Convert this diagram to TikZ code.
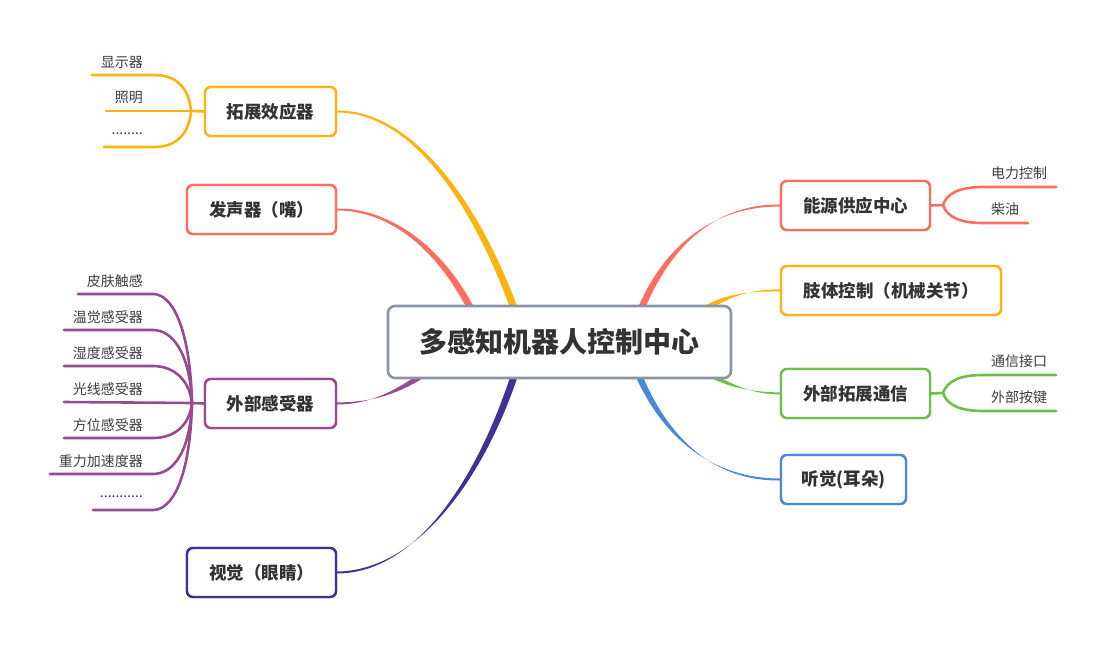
\documentclass[tikz,border=0pt]{standalone}
\usepackage{fontspec}
\setmainfont{Noto Sans CJK SC}
\usetikzlibrary{calc}
\definecolor{cy}{RGB}{253,180,18}
\definecolor{cs}{RGB}{255,110,94}
\definecolor{cp}{RGB}{151,74,140}
\definecolor{ci}{RGB}{64,50,148}
\definecolor{cg}{RGB}{108,192,74}
\definecolor{cb}{RGB}{74,137,218}
\definecolor{cc}{RGB}{138,148,166}
\definecolor{txt}{RGB}{51,51,51}
\definecolor{ltxt}{RGB}{60,60,60}
% tapered main branch: colour, start, c1, c2, end, half-width offset at end
\newcommand{\tbranch}[6]{%
  \fill[#1] ($(#2)+(0,-1.0)$) .. controls ($(#3)+(0,-1.3)$) and ($(#4)+#6$) .. ($(#5)+#6$)
     -- ($(#5)-#6$) .. controls ($(#4)-#6$) and ($(#3)+(0,1.3)$) .. ($(#2)+(0,1.0)$) -- cycle;}
\begin{document}
\begin{tikzpicture}[x=1pt,y=-1pt,
  box/.style={draw, line width=2.4pt, rounded corners=6pt, fill=white, minimum height=49pt,
    inner sep=0pt, font=\fontsize{17.5}{20}\selectfont\bfseries, text=txt},
  leafl/.style={anchor=east, inner sep=0pt, font=\fontsize{14}{16}\selectfont, text=ltxt},
  leafr/.style={anchor=west, inner sep=0pt, font=\fontsize{14}{16}\selectfont, text=ltxt},
  sub/.style={line width=2.6pt, line cap=round}]
\useasboundingbox (0,0) rectangle (1106,647);

% branch boxes (placed first for anchors; redrawn on top later)
\node[box, draw=cy, minimum width=131pt] (ext) at (270.5,111.5) {拓展效应器};
\node[box, draw=cs, minimum width=149pt] (voice) at (261.5,209.5) {发声器（嘴）};
\node[box, draw=cp, minimum width=131pt] (sens) at (270.5,403.5) {外部感受器};
\node[box, draw=ci, minimum width=149pt] (eye) at (261.5,572.5) {视觉（眼睛）};
\node[box, draw=cs, minimum width=149pt] (power) at (855.5,205.5) {能源供应中心};
\node[box, draw=cy, minimum width=220pt] (limb) at (891,290.5) {肢体控制（机械关节）};
\node[box, draw=cg, minimum width=149pt] (comm) at (855.5,393.5) {外部拓展通信};
\node[box, draw=cb, minimum width=125pt] (ear) at (843.5,479.5) {听觉(耳朵)};

% hidden ends of main branches (under the centre box)
\coordinate (e1) at (525,340);
\coordinate (e2) at (485,340);
\coordinate (e3) at (450,355);
\coordinate (e4) at (525,340);
\coordinate (e5) at (630,340);
\coordinate (e6) at (690,320);
\coordinate (e7) at (690,360);
\coordinate (e8) at (628,345);

\tbranch{cy}{ext.east}{410,111}{480,200}{e1}{(3.5,-1.1)}
\tbranch{cs}{voice.east}{390,209}{450,250}{e2}{(3.4,-1.3)}
\tbranch{cp}{sens.east}{370,403}{400,395}{e3}{(2.1,2.6)}
\tbranch{ci}{eye.east}{420,572}{490,470}{e4}{(3.5,1.0)}
\tbranch{cs}{power.west}{720,205}{660,240}{e5}{(3.4,1.1)}
\tbranch{cy}{limb.west}{750,290}{720,295}{e6}{(1.7,2.8)}
\tbranch{cg}{comm.west}{750,393}{720,385}{e7}{(-1.9,2.7)}
\tbranch{cb}{ear.west}{700,480}{650,420}{e8}{(-3.4,1.0)}

% centre
\node[draw=cc, line width=2.6pt, rounded corners=7pt, fill=white, minimum width=343pt,
  minimum height=72pt, inner sep=0pt, font=\fontsize{28}{32}\selectfont\bfseries, text=txt]
  (center) at (559.5,342) {多感知机器人控制中心};

% redraw branch boxes on top
\node[box, draw=cy, minimum width=131pt] at (ext) {拓展效应器};
\node[box, draw=cs, minimum width=149pt] at (voice) {发声器（嘴）};
\node[box, draw=cp, minimum width=131pt] at (sens) {外部感受器};
\node[box, draw=ci, minimum width=149pt] at (eye) {视觉（眼睛）};
\node[box, draw=cs, minimum width=149pt] at (power) {能源供应中心};
\node[box, draw=cy, minimum width=220pt] at (limb) {肢体控制（机械关节）};
\node[box, draw=cg, minimum width=149pt] at (comm) {外部拓展通信};
\node[box, draw=cb, minimum width=125pt] at (ear) {听觉(耳朵)};

% ---- 拓展效应器 children
\coordinate (fx) at (191,111);
\coordinate (x1) at (92,75);
\coordinate (x2) at (106,111);
\coordinate (x3) at (104,147);
\draw[sub,cy] (ext.west) -- (fx);
\draw[sub,cy] (fx) .. controls (189,86) and (174,75) .. (155,75) -- (x1);
\draw[sub,cy] (fx) -- (x2);
\draw[sub,cy] (fx) .. controls (189,136) and (174,147) .. (155,147) -- (x3);
\node[leafl] (t1) at (143,62) {显示器};
\node[leafl] (t2) at (143,98) {照明};
\node[leafl] (t3) at (143,134) {........};

% ---- 外部感受器 children
\coordinate (fs) at (192,403);
\draw[sub,cp] (sens.west) -- (fs);
\coordinate (s1) at (78,294);
\coordinate (s2) at (64,330);
\coordinate (s3) at (64,366);
\coordinate (s4) at (64,402);
\coordinate (s5) at (64,438);
\coordinate (s6) at (50,474);
\coordinate (s7) at (93,510);
\draw[sub,cp] (fs) .. controls (190,327) and (172,294) .. (153,294) -- (s1);
\draw[sub,cp] (fs) .. controls (190,352) and (172,330) .. (153,330) -- (s2);
\draw[sub,cp] (fs) .. controls (189,378) and (172,366) .. (153,366) -- (s3);
\draw[sub,cp] (fs) -- (s4);
\draw[sub,cp] (fs) .. controls (189,428) and (172,438) .. (153,438) -- (s5);
\draw[sub,cp] (fs) .. controls (190,454) and (172,474) .. (153,474) -- (s6);
\draw[sub,cp] (fs) .. controls (190,479) and (172,510) .. (153,510) -- (s7);
\node[leafl] (u1) at (143,281) {皮肤触感};
\node[leafl] (u2) at (143,317) {温觉感受器};
\node[leafl] (u3) at (143,353) {湿度感受器};
\node[leafl] (u4) at (143,389) {光线感受器};
\node[leafl] (u5) at (143,425) {方位感受器};
\node[leafl] (u6) at (143,461) {重力加速度器};
\node[leafl] (u7) at (143,497) {...........};

% ---- 能源供应中心 children
\coordinate (fp) at (943,205);
\coordinate (p1) at (1056,187);
\coordinate (p2) at (1028,223);
\draw[sub,cs] (power.east) -- (fp);
\draw[sub,cs] (fp) .. controls (947,193) and (960,187) .. (983,187) -- (p1);
\draw[sub,cs] (fp) .. controls (947,217) and (960,223) .. (983,223) -- (p2);
\node[leafr] (v1) at (991,173) {电力控制};
\node[leafr] (v2) at (991,209) {柴油};

% ---- 外部拓展通信 children
\coordinate (fc) at (943,393);
\coordinate (c1) at (1056,375);
\coordinate (c2) at (1056,411);
\draw[sub,cg] (comm.east) -- (fc);
\draw[sub,cg] (fc) .. controls (947,381) and (960,375) .. (983,375) -- (c1);
\draw[sub,cg] (fc) .. controls (947,405) and (960,411) .. (983,411) -- (c2);
\node[leafr] (w1) at (991,361) {通信接口};
\node[leafr] (w2) at (991,397) {外部按键};
\end{tikzpicture}
\end{document}
